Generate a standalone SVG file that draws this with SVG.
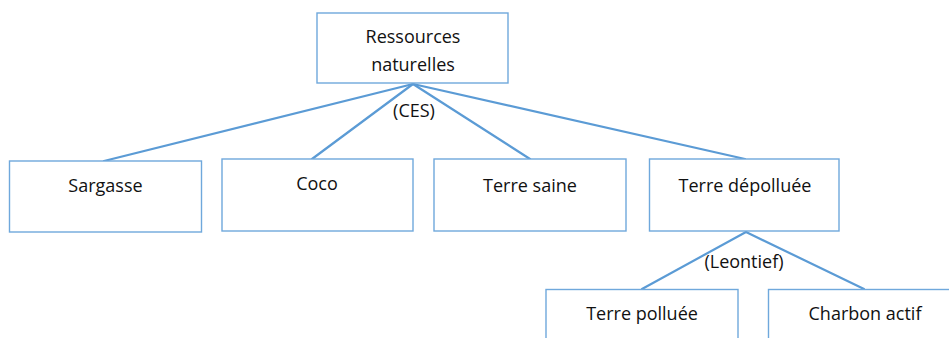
<svg xmlns="http://www.w3.org/2000/svg" width="949" height="338" viewBox="0 0 949 338">
  <style>
    .box { fill: #ffffff; stroke: #6fa8dc; stroke-width: 1.4; }
    .link { stroke: #5b9bd5; stroke-width: 2.2; fill: none; stroke-linecap: round; }
    text { font-family: "Open Sans", "Liberation Sans", sans-serif; font-size: 18px; fill: #111111; text-anchor: middle; }
  </style>
  <rect width="949" height="338" fill="#ffffff"/>

  <!-- tree links -->
  <g id="connectors">
    <line class="link" x1="413" y1="84" x2="104" y2="161"/>
    <line class="link" x1="413" y1="84" x2="312" y2="159"/>
    <line class="link" x1="413" y1="84" x2="530" y2="159"/>
    <line class="link" x1="413" y1="84" x2="745" y2="159"/>
    <line class="link" x1="746" y1="232" x2="642" y2="289"/>
    <line class="link" x1="746" y1="232" x2="864" y2="289"/>
    <text x="414" y="117">(CES)</text>
    <text x="744" y="268">(Leontief)</text>
  </g>

  <g id="ressources-naturelles">
    <rect class="box" x="317" y="13" width="191" height="70"/>
    <text x="413" y="43">Ressources</text>
    <text x="413" y="71">naturelles</text>
  </g>

  <g id="sargasse">
    <rect class="box" x="9.5" y="161" width="192" height="71"/>
    <text x="105.5" y="192">Sargasse</text>
  </g>

  <g id="coco">
    <rect class="box" x="222" y="159" width="191" height="72"/>
    <text x="317" y="190">Coco</text>
  </g>

  <g id="terre-saine">
    <rect class="box" x="434" y="159" width="192" height="72"/>
    <text x="530" y="192">Terre saine</text>
  </g>

  <g id="terre-depolluee">
    <rect class="box" x="649.5" y="159" width="189.5" height="72"/>
    <text x="745" y="192">Terre dépolluée</text>
  </g>

  <g id="terre-polluee">
    <rect class="box" x="546" y="289.5" width="192" height="60"/>
    <text x="642" y="320">Terre polluée</text>
  </g>

  <g id="charbon-actif">
    <rect class="box" x="768.5" y="289.5" width="192" height="60"/>
    <text x="865" y="320">Charbon actif</text>
  </g>
</svg>
